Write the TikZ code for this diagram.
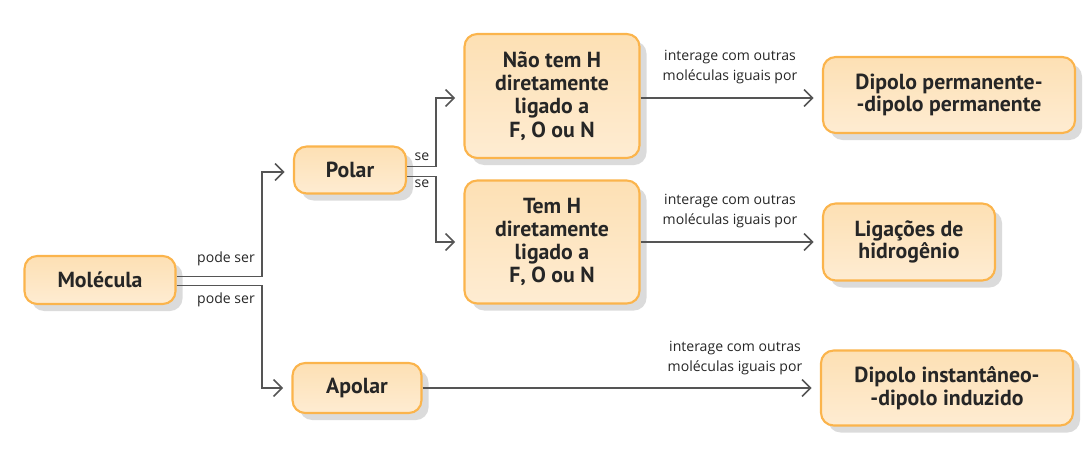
\documentclass[tikz,border=0pt]{standalone}
\usepackage{fontspec}
\setmainfont{Open Sans}
\newfontfamily\boxfont{PT Sans}
\usetikzlibrary{arrows.meta,positioning,shadows}
\definecolor{boxline}{RGB}{251,180,76}
\definecolor{boxtop}{RGB}{253,224,180}
\definecolor{boxmid}{RGB}{255,252,248}
\definecolor{boxbot}{RGB}{254,236,210}
\definecolor{linkgray}{RGB}{85,85,85}
\tikzset{
  conceito/.style={draw=boxline, line width=1.5pt, rounded corners=9pt,
    top color=boxtop, middle color=boxmid, bottom color=boxbot,
    drop shadow={shadow xshift=5pt, shadow yshift=-5pt, fill=black!14, opacity=1},
    align=center, font=\boxfont\bfseries\fontsize{15.5}{18}\selectfont,
    text=black!85, inner sep=0pt},
  liga/.style={draw=linkgray, line width=1.1pt, -{Straight Barb[length=6pt,width=12pt,line width=1.1pt]}},
  rotulo/.style={font=\fontsize{10}{14}\selectfont, text=black!85, align=center, inner sep=1pt}
}
\begin{document}
\begin{tikzpicture}[x=0.025cm, y=-0.025cm]
  \useasboundingbox (0,0) rectangle (1092,459);
  % conceitos
  \node[conceito, minimum width=151*0.025cm, minimum height=48*0.025cm] (molecula) at (100,280) {Molécula};
  \node[conceito, minimum width=112*0.025cm, minimum height=47*0.025cm] (polar) at (350,170) {Polar};
  \node[conceito, minimum width=129*0.025cm, minimum height=50*0.025cm] (apolar) at (357,388) {Apolar};
  \node[conceito, minimum width=175*0.025cm, minimum height=124*0.025cm] (naotem) at (552,96) {Não tem H\\[-1.5pt]diretamente\\[-1.5pt]ligado a\\[-1.5pt]F, O ou N};
  \node[conceito, minimum width=175*0.025cm, minimum height=123*0.025cm] (temh) at (552,242) {Tem H\\[-1.5pt]diretamente\\[-1.5pt]ligado a\\[-1.5pt]F, O ou N};
  \node[conceito, minimum width=252*0.025cm, minimum height=76*0.025cm] (dpdp) at (949,95) {Dipolo permanente-\\[-2pt]-dipolo permanente};
  \node[conceito, minimum width=172*0.025cm, minimum height=77*0.025cm] (ligh) at (909,242) {Ligações de\\[-2pt]hidrogênio};
  \node[conceito, minimum width=252*0.025cm, minimum height=75*0.025cm] (didi) at (947,388) {Dipolo instantâneo-\\[-2pt]-dipolo induzido};

  % ligacoes
  \draw[liga] ([yshift=2.5pt]molecula.east) -| (262,172) -- ([xshift=-6pt]polar.west |- 0,172);
  \draw[liga] ([yshift=-4pt]molecula.east) -| (262,388) -- ([xshift=-6pt]apolar.west);
  \draw[liga] ([yshift=2.5pt]polar.east) -| (436,98) -- ([xshift=-6pt]naotem.west |- 0,98);
  \draw[liga] ([yshift=-4.5pt]polar.east) -| (436,242) -- ([xshift=-6pt]temh.west);
  \draw[liga] (naotem.east |- 0,98) -- ([xshift=-6pt]dpdp.west |- 0,98);
  \draw[liga] (temh.east) -- ([xshift=-6pt]ligh.west);
  \draw[liga] (apolar.east) -- ([xshift=-6pt]didi.west);

  % rotulos
  \node[rotulo] (ps1) at (226,259) {pode ser};
  \node[rotulo] (ps2) at (226,300) {pode ser};
  \node[rotulo] (se1) at (422,157) {se};
  \node[rotulo] (se2) at (422,184) {se};
  \node[rotulo] (int1) at (730,67) {interage com outras\\moléculas iguais por};
  \node[rotulo] (int2) at (730,211) {interage com outras\\moléculas iguais por};
  \node[rotulo] (int3) at (735,358) {interage com outras\\moléculas iguais por};
\end{tikzpicture}
\end{document}
